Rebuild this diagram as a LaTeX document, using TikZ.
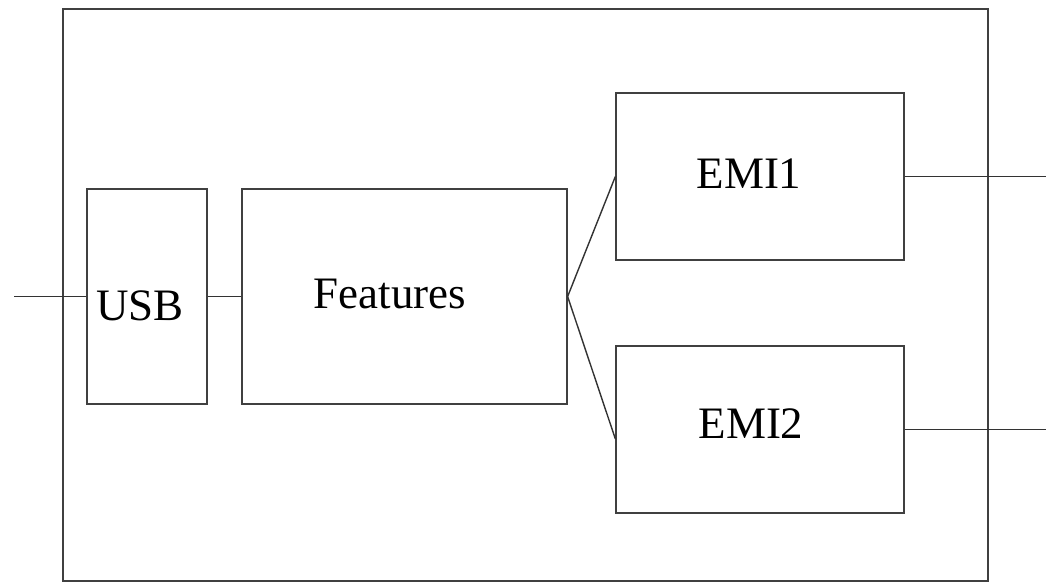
\documentclass[tikz,border=0pt]{standalone}
\usepackage{fontspec}
\setmainfont{Liberation Serif}
\begin{document}
\begin{tikzpicture}[x=0.02cm,y=-0.02cm]
  \tikzset{
  box/.style={draw=black!75,line width=0.75pt,inner sep=0pt},
  txt/.style={anchor=base,inner sep=0pt,font=\fontsize{25.6}{30}\selectfont},
  wire/.style={draw=black!80,line width=0.8pt},
  }
  \useasboundingbox (0,0) rectangle (1046,583);
  % the boxes
  \node[box,minimum width=18.5cm,minimum height=11.44cm] (outer) at (525.5,295) {};
  \node[box,minimum width=2.4cm,minimum height=4.3cm] (usb) at (147,296.5) {};
  \node[box,minimum width=6.5cm,minimum height=4.3cm] (feat) at (404.5,296.5) {};
  \node[box,minimum width=5.76cm,minimum height=3.34cm] (emi1) at (760,176.5) {};
  \node[box,minimum width=5.76cm,minimum height=3.34cm] (emi2) at (760,429.5) {};

  % the texts
  \node[txt] (usbtxt) at (140,320) {USB};
  \node[txt] (feattxt) at (390,308) {Features};
  \node[txt] (emi1txt) at (749,188) {EMI1};
  \node[txt] (emi2txt) at (751,438) {EMI2};

  % the free ends
  \coordinate (in) at (14,296.5);
  \coordinate (out1) at (1046,176.5);
  \coordinate (out2) at (1046,429.5);

  % the connection between the boxes
  \draw[wire] (in) -- (usb.west);
  \draw[wire] (usb.east) -- (feat.west);
  \draw[wire] (feat.east) -- (emi1.west);
  \draw[wire] (feat.east) -- ([yshift=-0.19cm]emi2.west);
  \draw[wire] (emi1.east) -- (out1);
  \draw[wire] (emi2.east) -- (out2);
\end{tikzpicture}
\end{document}
